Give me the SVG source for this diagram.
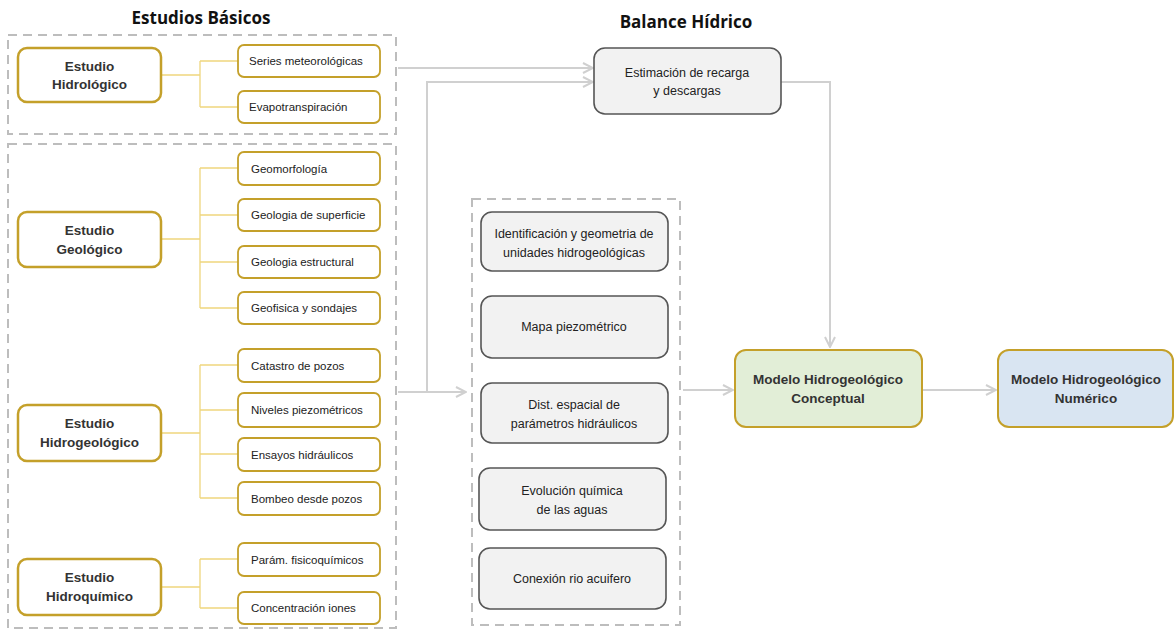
<svg xmlns="http://www.w3.org/2000/svg" width="1175" height="635" viewBox="0 0 1175 635">
<defs>
<style>
.title{font-family:"Open Sans","Liberation Sans",sans-serif;font-weight:bold;font-size:17px;fill:#111;text-anchor:middle}
.dash{fill:none;stroke:#bdbdbd;stroke-width:2;stroke-dasharray:9 6}
.main{fill:#fff;stroke:#c4a02a;stroke-width:2.5}
.sub{fill:#fff;stroke:#c4a02a;stroke-width:1.8}
.gray{fill:#f2f2f2;stroke:#555;stroke-width:1.6}
.mt{font-family:"Liberation Sans",Arial,sans-serif;font-weight:bold;font-size:13.5px;fill:#333;text-anchor:middle}
.st{font-family:"Liberation Sans",Arial,sans-serif;font-size:11.5px;fill:#222}
.gt{font-family:"Liberation Sans",Arial,sans-serif;font-size:12.5px;fill:#222;text-anchor:middle}
.tree{fill:none;stroke:#efd67e;stroke-width:1.3}
.conn{fill:none;stroke:#d0d0d0;stroke-width:2}
</style>
<marker id="arr" viewBox="0 0 12 12" refX="11" refY="6" markerWidth="12" markerHeight="12" markerUnits="userSpaceOnUse" orient="auto">
<path d="M1,1 L11,6 L1,11" fill="none" stroke="#d0d0d0" stroke-width="2"/>
</marker>
</defs>
<rect width="1175" height="635" fill="#fff"/>

<text class="title" x="201" y="24">Estudios Básicos</text>
<text class="title" x="686" y="28">Balance Hídrico</text>

<g id="groups">
<rect class="dash" x="8" y="35" width="388" height="99"/>
<rect class="dash" x="8" y="144" width="388" height="484"/>
<rect class="dash" x="472" y="199" width="208" height="426"/>
</g>

<g id="connectors">
<path class="tree" d="M161,75 H200 M200,61 V107 M200,61 H238 M200,107 H238"/>
<path class="tree" d="M161,239 H200 M200,168 V308 M200,168 H238 M200,215 H238 M200,262 H238 M200,308 H238"/>
<path class="tree" d="M161,433 H200 M200,365 V498 M200,365 H238 M200,410 H238 M200,454 H238 M200,498 H238"/>
<path class="tree" d="M161,587 H200 M200,559 V608 M200,559 H238 M200,608 H238"/>
<path class="conn" d="M398,68 H593" marker-end="url(#arr)"/>
<path class="conn" d="M398,392 H466" marker-end="url(#arr)"/>
<path class="conn" d="M427,392 V82 H593" marker-end="url(#arr)"/>
<path class="conn" d="M781,82 H830 V347" marker-end="url(#arr)"/>
<path class="conn" d="M683,390 H733" marker-end="url(#arr)"/>
<path class="conn" d="M922,390 H996" marker-end="url(#arr)"/>
</g>

<g id="hidrologico">
<rect class="main" x="18" y="48" width="143" height="54" rx="9"/>
<text class="mt" x="89.5" y="71">Estudio</text>
<text class="mt" x="89.5" y="89">Hidrológico</text>
</g>
<g id="series"><rect class="sub" x="238" y="45" width="142" height="32" rx="6"/><text class="st" x="249" y="65">Series meteorológicas</text></g>
<g id="evapo"><rect class="sub" x="238" y="91" width="142" height="32" rx="6"/><text class="st" x="249" y="111">Evapotranspiración</text></g>

<g id="geologico">
<rect class="main" x="18" y="212" width="143" height="55" rx="9"/>
<text class="mt" x="89.5" y="235">Estudio</text>
<text class="mt" x="89.5" y="254">Geológico</text>
</g>
<g id="geomorf"><rect class="sub" x="238" y="152" width="142" height="33" rx="6"/><text class="st" x="251" y="173">Geomorfología</text></g>
<g id="geosup"><rect class="sub" x="238" y="199" width="142" height="32" rx="6"/><text class="st" x="251" y="219">Geologia de superficie</text></g>
<g id="geoest"><rect class="sub" x="238" y="246" width="142" height="32" rx="6"/><text class="st" x="251" y="266">Geologia estructural</text></g>
<g id="geofis"><rect class="sub" x="238" y="292" width="142" height="32" rx="6"/><text class="st" x="251" y="312">Geofisica y sondajes</text></g>

<g id="hidrogeologico">
<rect class="main" x="18" y="405" width="143" height="56" rx="9"/>
<text class="mt" x="89.5" y="428">Estudio</text>
<text class="mt" x="89.5" y="447">Hidrogeológico</text>
</g>
<g id="catastro"><rect class="sub" x="238" y="349" width="142" height="33" rx="6"/><text class="st" x="251" y="370">Catastro de pozos</text></g>
<g id="niveles"><rect class="sub" x="238" y="393" width="142" height="34" rx="6"/><text class="st" x="251" y="414">Niveles piezométricos</text></g>
<g id="ensayos"><rect class="sub" x="238" y="438" width="142" height="33" rx="6"/><text class="st" x="251" y="459">Ensayos hidráulicos</text></g>
<g id="bombeo"><rect class="sub" x="238" y="482" width="142" height="33" rx="6"/><text class="st" x="251" y="503">Bombeo desde pozos</text></g>

<g id="hidroquimico">
<rect class="main" x="18" y="559" width="143" height="56" rx="9"/>
<text class="mt" x="89.5" y="582">Estudio</text>
<text class="mt" x="89.5" y="601">Hidroquímico</text>
</g>
<g id="param"><rect class="sub" x="238" y="543" width="142" height="33" rx="6"/><text class="st" x="251" y="564">Parám. fisicoquímicos</text></g>
<g id="concent"><rect class="sub" x="238" y="592" width="142" height="32" rx="6"/><text class="st" x="251" y="612">Concentración iones</text></g>

<g id="estimacion">
<rect class="gray" x="594" y="48" width="187" height="66" rx="11"/>
<text class="gt" x="687" y="77">Estimación de recarga</text>
<text class="gt" x="687" y="95">y descargas</text>
</g>

<g id="identificacion"><rect class="gray" x="481" y="212" width="187" height="59" rx="11"/>
<text class="gt" x="574" y="238">Identificación y geometria de</text>
<text class="gt" x="574" y="257">unidades hidrogeológicas</text></g>
<g id="mapa"><rect class="gray" x="481" y="296" width="187" height="62" rx="11"/>
<text class="gt" x="574" y="331">Mapa piezométrico</text></g>
<g id="dist"><rect class="gray" x="481" y="383" width="187" height="60" rx="11"/>
<text class="gt" x="574" y="409">Dist. espacial de</text>
<text class="gt" x="574" y="428">parámetros hidráulicos</text></g>
<g id="evolucion"><rect class="gray" x="479" y="468" width="187" height="62" rx="11"/>
<text class="gt" x="572" y="495">Evolución química</text>
<text class="gt" x="572" y="514">de las aguas</text></g>
<g id="conexion"><rect class="gray" x="479" y="548" width="187" height="61" rx="11"/>
<text class="gt" x="572" y="583">Conexión rio acuifero</text></g>

<g id="conceptual">
<rect x="735" y="350" width="187" height="77" rx="11" fill="#e2eed7" stroke="#c4a02a" stroke-width="2"/>
<text class="mt" x="828" y="384">Modelo Hidrogeológico</text>
<text class="mt" x="828" y="403">Conceptual</text>
</g>
<g id="numerico">
<rect x="998" y="350" width="175" height="77" rx="11" fill="#d9e5f2" stroke="#c4a02a" stroke-width="2"/>
<text class="mt" x="1086" y="384">Modelo Hidrogeológico</text>
<text class="mt" x="1086" y="403">Numérico</text>
</g>
</svg>
